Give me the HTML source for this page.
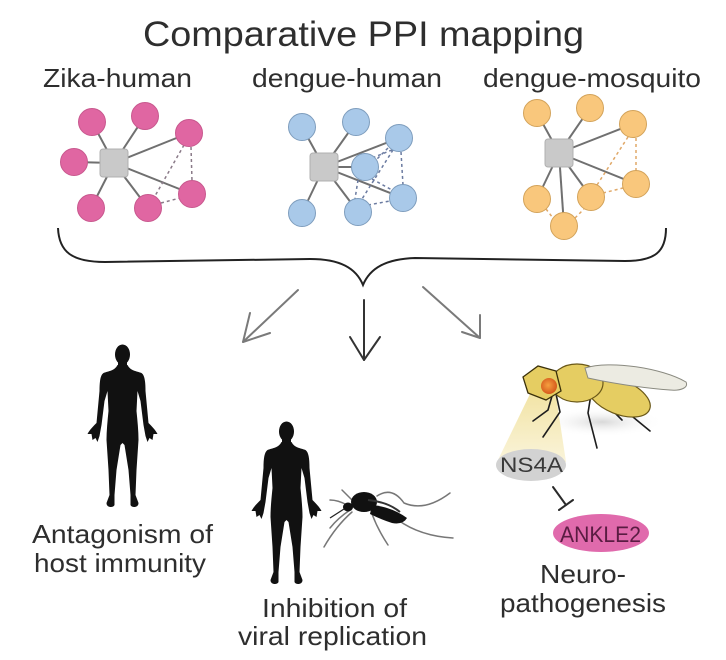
<!DOCTYPE html>
<html><head><meta charset="utf-8"><style>
html,body{margin:0;padding:0;background:#fff;}
svg{display:block;}
text{font-family:"Liberation Sans",Arial,sans-serif;}
</style></head><body>
<svg width="726" height="660" viewBox="0 0 726 660" xmlns="http://www.w3.org/2000/svg">
<defs>
<g id="human">
<ellipse cx="0" cy="9.5" rx="7.5" ry="10" fill="#111"/>
<rect x="-4.5" y="14" width="9" height="12" fill="#111"/>
<path fill="#111" d="M -5,20 C -8,26 -14,26 -19,28 C -22,30 -23,36 -23,46 L -26,78 C -29,81 -33,85 -35,89 L -31,89 L -30,95 L -27,93 L -25,97 L -23,91 L -21,80 L -18,56 L -15,46 L -14,66 C -15,76 -16,86 -16,95 L -14,125 L -13,150 L -16,158 C -16,163 -9,163 -8,160 L -8,150 L -6,125 L -2,100 L 0,98 L 2,100 L 6,125 L 8,150 L 8,160 C 9,163 16,163 16,158 L 13,150 L 14,125 L 16,95 C 16,86 15,76 14,66 L 15,46 L 18,56 L 21,80 L 23,91 L 25,97 L 27,93 L 30,95 L 31,89 L 35,89 C 33,85 29,81 26,78 L 23,46 C 23,36 22,30 19,28 C 14,26 8,26 5,20 Z"/>
</g>
<linearGradient id="beam" x1="0" y1="0" x2="0" y2="1">
<stop offset="0" stop-color="#f2e4a6"/>
<stop offset="1" stop-color="#faf4da"/>
</linearGradient>
<radialGradient id="shadow" cx="0.5" cy="0.5" r="0.5">
<stop offset="0" stop-color="#d8d8d8"/>
<stop offset="1" stop-color="#ffffff" stop-opacity="0"/>
</radialGradient>
<radialGradient id="eye" cx="0.45" cy="0.45" r="0.55">
<stop offset="0" stop-color="#f6a040"/>
<stop offset="1" stop-color="#d65a1c"/>
</radialGradient>
</defs>

<!-- Title -->
<text x="143" y="46" font-size="35" fill="#2e2e2e" textLength="441" lengthAdjust="spacingAndGlyphs">Comparative PPI mapping</text>
<text x="43" y="87" font-size="26" fill="#2e2e2e" textLength="149" lengthAdjust="spacingAndGlyphs">Zika-human</text>
<text x="252" y="87" font-size="26" fill="#2e2e2e" textLength="190" lengthAdjust="spacingAndGlyphs">dengue-human</text>
<text x="483" y="87" font-size="26" fill="#2e2e2e" textLength="218" lengthAdjust="spacingAndGlyphs">dengue-mosquito</text>

<!-- Zika network -->
<g stroke="#707070" stroke-width="2">
<line x1="114" y1="163" x2="92" y2="122"/>
<line x1="114" y1="163" x2="145" y2="116"/>
<line x1="114" y1="163" x2="189" y2="133"/>
<line x1="114" y1="163" x2="74" y2="162"/>
<line x1="114" y1="163" x2="91" y2="208"/>
<line x1="114" y1="163" x2="148" y2="208"/>
<line x1="114" y1="163" x2="192" y2="194"/>
</g>
<g stroke="#8a7a88" stroke-width="1.5" stroke-dasharray="3,3" fill="none">
<line x1="184" y1="145" x2="155" y2="196"/>
<line x1="191" y1="147" x2="192" y2="181"/>
<line x1="161" y1="203" x2="180" y2="198"/>
</g>
<g fill="#e066a2" stroke="#c8588e" stroke-width="1">
<circle cx="92" cy="122" r="13.5"/>
<circle cx="145" cy="116" r="13.5"/>
<circle cx="189" cy="133" r="13.5"/>
<circle cx="74" cy="162" r="13.5"/>
<circle cx="91" cy="208" r="13.5"/>
<circle cx="148" cy="208" r="13.5"/>
<circle cx="192" cy="194" r="13.5"/>
</g>
<rect x="100" y="149" width="28" height="28" rx="3" fill="#c9c9c9" stroke="#b0b0b0"/>

<!-- dengue-human network -->
<g stroke="#707070" stroke-width="2">
<line x1="324" y1="167" x2="302" y2="127"/>
<line x1="324" y1="167" x2="356" y2="122"/>
<line x1="324" y1="167" x2="399" y2="138"/>
<line x1="324" y1="167" x2="365" y2="167"/>
<line x1="324" y1="167" x2="302" y2="213"/>
<line x1="324" y1="167" x2="358" y2="212"/>
<line x1="324" y1="167" x2="403" y2="198"/>
</g>
<g stroke="#6a7aa0" stroke-width="1.5" stroke-dasharray="3,3" fill="none">
<line x1="392" y1="150" x2="372" y2="158"/>
<line x1="401" y1="152" x2="403" y2="185"/>
<line x1="393" y1="150" x2="362" y2="199"/>
<line x1="372" y1="179" x2="392" y2="190"/>
<line x1="358" y1="180" x2="355" y2="199"/>
<line x1="368" y1="205" x2="390" y2="201"/>
<line x1="388" y1="148" x2="376" y2="160"/>
</g>
<g fill="#a9c9e9" stroke="#7e9dbd" stroke-width="1">
<circle cx="302" cy="127" r="13.5"/>
<circle cx="356" cy="122" r="13.5"/>
<circle cx="399" cy="138" r="13.5"/>
<circle cx="365" cy="167" r="13.5"/>
<circle cx="302" cy="213" r="13.5"/>
<circle cx="358" cy="212" r="13.5"/>
<circle cx="403" cy="198" r="13.5"/>
</g>
<rect x="310" y="153" width="28" height="28" rx="3" fill="#c9c9c9" stroke="#b0b0b0"/>

<!-- dengue-mosquito network -->
<g stroke="#707070" stroke-width="2">
<line x1="559" y1="153" x2="537" y2="113"/>
<line x1="559" y1="153" x2="590" y2="108"/>
<line x1="559" y1="153" x2="633" y2="124"/>
<line x1="559" y1="153" x2="636" y2="184"/>
<line x1="559" y1="153" x2="591" y2="197"/>
<line x1="559" y1="153" x2="537" y2="199"/>
<line x1="559" y1="153" x2="564" y2="226"/>
</g>
<g stroke="#e0a868" stroke-width="1.5" stroke-dasharray="3,3" fill="none">
<line x1="628" y1="137" x2="597" y2="185"/>
<line x1="636" y1="138" x2="636" y2="171"/>
<line x1="603" y1="193" x2="623" y2="188"/>
<line x1="546" y1="209" x2="553" y2="218"/>
<line x1="575" y1="218" x2="584" y2="209"/>
</g>
<g fill="#f9c77c" stroke="#d3a35a" stroke-width="1">
<circle cx="537" cy="113" r="13.5"/>
<circle cx="590" cy="108" r="13.5"/>
<circle cx="633" cy="124" r="13.5"/>
<circle cx="636" cy="184" r="13.5"/>
<circle cx="591" cy="197" r="13.5"/>
<circle cx="537" cy="199" r="13.5"/>
<circle cx="564" cy="226" r="13.5"/>
</g>
<rect x="545" y="139" width="28" height="28" rx="3" fill="#c9c9c9" stroke="#b0b0b0"/>

<!-- Brace -->
<path d="M58,228 C59,252 72,262 105,262 L310,259 C340,259 356,268 363,285 C370,268 386,259 415,258 L625,261 C655,261 666,252 666,228" fill="none" stroke="#222" stroke-width="2"/>

<!-- Arrows -->
<g fill="none" stroke-linecap="round" stroke-linejoin="round">
<g stroke="#7a7a7a" stroke-width="2">
<line x1="298" y1="290" x2="243" y2="342"/>
<polyline points="250,313 243,342 270,333"/>
<line x1="423" y1="287" x2="480" y2="338"/>
<polyline points="480,315 480,338 462,332"/>
</g>
<g stroke="#333" stroke-width="2">
<line x1="364" y1="300" x2="364" y2="360"/>
<polyline points="350,337 364,360 380,337"/>
</g>
</g>

<!-- Humans -->
<use href="#human" transform="translate(122.5,345)"/>
<use href="#human" transform="translate(286.5,422)"/>

<!-- Mosquito -->
<g fill="none" stroke="#777" stroke-width="1.5" stroke-linecap="round">
<path d="M377,496 Q392,486 404,503 Q425,512 450,493"/>
<path d="M398,520 Q420,536 453,538"/>
<path d="M372,514 Q378,530 388,545"/>
<path d="M352,512 Q336,526 324,547"/>
<path d="M350,510 Q338,518 330,528"/>
<path d="M347,505 Q338,500 330,500"/>
<path d="M352,500 Q346,494 342,490"/>
</g>
<ellipse cx="364" cy="502" rx="13" ry="10" fill="#111"/>
<ellipse cx="348" cy="507" rx="5" ry="4.5" fill="#111"/>
<path d="M372,505 Q392,507 407,518 Q403,525 392,523 Q380,519 370,514 Z" fill="#111"/>
<path d="M368,500 Q388,502 400,512" stroke="#333" stroke-width="2" fill="none"/>
<line x1="344" y1="509" x2="330" y2="518" stroke="#222" stroke-width="1.3"/>

<!-- Fly -->
<ellipse cx="602" cy="422" rx="62" ry="15" fill="url(#shadow)"/>
<polygon points="530,394 556,396 566,462 497,462" fill="url(#beam)"/>
<g fill="none" stroke="#1e1e1e" stroke-width="1.6" stroke-linecap="round">
<path d="M556,394 L560,412 L543,437"/>
<path d="M552,396 L548,410 L533,421"/>
<path d="M592,388 L588,413 L597,448"/>
<path d="M600,390 L612,410 L622,420"/>
<path d="M622,408 L650,431"/>
</g>
<ellipse cx="619" cy="397" rx="33" ry="17" transform="rotate(22 619 397)" fill="#e5cd62" stroke="#6a5818" stroke-width="1.2"/>
<ellipse cx="577" cy="383" rx="26" ry="19" fill="#e5cd62" stroke="#6a5818" stroke-width="1.2"/>
<path d="M585,368 C610,360 662,368 686,382 C689,388 680,391 670,390 C640,388 606,382 588,378 Z" fill="#ecebe2" stroke="#8a8a80" stroke-width="1"/>
<polygon points="523,377 538,366 556,371 561,391 546,400 528,393" fill="#e5cd62" stroke="#3a300a" stroke-width="1.3"/>
<circle cx="549" cy="386" r="8" fill="url(#eye)"/>

<!-- NS4A / ANKLE2 -->
<ellipse cx="531" cy="465" rx="35" ry="16" fill="#d2d2d2"/>
<text x="500" y="472" font-size="21" fill="#3a3a3a" textLength="63" lengthAdjust="spacingAndGlyphs">NS4A</text>
<g stroke="#2a2a2a" stroke-width="2" stroke-linecap="round">
<line x1="553" y1="487" x2="566" y2="505"/>
<line x1="559" y1="510" x2="573" y2="500"/>
</g>
<ellipse cx="601" cy="533" rx="48" ry="19" fill="#e06aac"/>
<text x="560" y="542" font-size="22" fill="#5a1c42" textLength="81" lengthAdjust="spacingAndGlyphs">ANKLE2</text>

<!-- Labels -->
<g fill="#2e2e2e" font-size="26">
<text x="32" y="543" textLength="181" lengthAdjust="spacingAndGlyphs">Antagonism of</text>
<text x="34" y="572" textLength="172" lengthAdjust="spacingAndGlyphs">host immunity</text>
<text x="262" y="617" textLength="145" lengthAdjust="spacingAndGlyphs">Inhibition of</text>
<text x="238" y="645" textLength="189" lengthAdjust="spacingAndGlyphs">viral replication</text>
<text x="540" y="583" textLength="86" lengthAdjust="spacingAndGlyphs">Neuro-</text>
<text x="500" y="612" textLength="166" lengthAdjust="spacingAndGlyphs">pathogenesis</text>
</g>
</svg>
</body></html>
